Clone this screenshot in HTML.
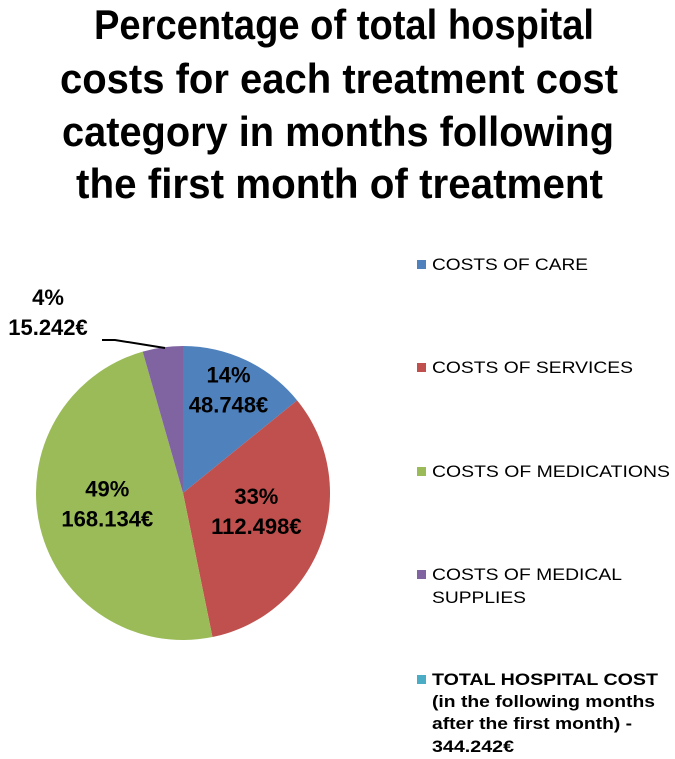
<!DOCTYPE html>
<html><head><meta charset="utf-8"><style>
body{margin:0;background:#fff;}
svg{display:block;font-family:"Liberation Sans",Arial,sans-serif;}
</style></head><body>
<svg id="chart" width="675" height="759">
<g font-weight="bold" font-size="42" fill="#000">
<text x="94" y="39" textLength="500" lengthAdjust="spacingAndGlyphs">Percentage of total hospital</text>
<text x="60" y="93" textLength="558" lengthAdjust="spacingAndGlyphs">costs for each treatment cost</text>
<text x="62" y="146" textLength="552" lengthAdjust="spacingAndGlyphs">category in months following</text>
<text x="76" y="198" textLength="527" lengthAdjust="spacingAndGlyphs">the first month of treatment</text>
</g>
<g id="slices"></g>
<g id="labels" font-weight="bold" font-size="22" fill="#000" text-anchor="middle"></g>
<polyline points="102,340 115,340 165,348" fill="none" stroke="#000" stroke-width="2"/>
<g font-size="17" fill="#000">
<g><rect x="417" y="260" width="9" height="9" fill="#4f81bd"/><text x="432" y="270" textLength="156" lengthAdjust="spacingAndGlyphs">COSTS OF CARE</text></g>
<g><rect x="417" y="363" width="9" height="9" fill="#c0504d"/><text x="432" y="373" textLength="201" lengthAdjust="spacingAndGlyphs">COSTS OF SERVICES</text></g>
<g><rect x="417" y="467" width="9" height="9" fill="#9bbb59"/><text x="432" y="477" textLength="238" lengthAdjust="spacingAndGlyphs">COSTS OF MEDICATIONS</text></g>
<g><rect x="417" y="570" width="9" height="9" fill="#8064a2"/><text x="432" y="580" textLength="190" lengthAdjust="spacingAndGlyphs">COSTS OF MEDICAL</text><text x="432" y="603" textLength="94" lengthAdjust="spacingAndGlyphs">SUPPLIES</text></g>
<g font-weight="bold"><rect x="417" y="675" width="9" height="9" fill="#4bacc6"/><text x="432" y="685" textLength="226" lengthAdjust="spacingAndGlyphs">TOTAL HOSPITAL COST</text><text x="432" y="707" textLength="223" lengthAdjust="spacingAndGlyphs">(in the following months</text><text x="432" y="729" textLength="200" lengthAdjust="spacingAndGlyphs">after the first month) -</text><text x="432" y="752" textLength="82" lengthAdjust="spacingAndGlyphs">344.242€</text></g>
</g>
</svg>
<script>
const categories = ["care","services","medications","supplies"];
const values = [48748, 112498, 168134, 15242];
const percentLabels = ["14%","33%","49%","4%"];
const valueLabels = ["48.748€","112.498€","168.134€","15.242€"];
const colors = ["#4f81bd","#c0504d","#9bbb59","#8064a2"];
const cx=183, cy=493, r=147;
const ns="http://www.w3.org/2000/svg";
const total=values.reduce((a,b)=>a+b,0);
const sg=document.getElementById('slices'), lg=document.getElementById('labels');
let a0=0;
values.forEach((v,i)=>{
  const frac=v/total;
  const a1=a0+frac*2*Math.PI;
  const p=(a)=>[cx+r*Math.sin(a), cy-r*Math.cos(a)];
  const [x0,y0]=p(a0),[x1,y1]=p(a1);
  const path=document.createElementNS(ns,'path');
  path.setAttribute('d',`M${cx},${cy}L${x0},${y0}A${r},${r} 0 ${a1-a0>Math.PI?1:0} 1 ${x1},${y1}Z`);
  path.setAttribute('fill',colors[i]);
  
  
  sg.appendChild(path);
  const am=(a0+a1)/2;
  let lx,lc;
  if(frac<0.08){ lx=48; lc=320; }
  else { const rr=r*(frac<0.2?0.72:0.53); lx=cx+rr*Math.sin(am); lc=cy-rr*Math.cos(am); }
  const t1=document.createElementNS(ns,'text');
  t1.setAttribute('x',lx); t1.setAttribute('y',lc-15);
  t1.textContent=percentLabels[i];
  
  
  lg.appendChild(t1);
  const t2=document.createElementNS(ns,'text');
  t2.setAttribute('x',lx); t2.setAttribute('y',lc+15);
  t2.textContent=valueLabels[i];
  
  
  lg.appendChild(t2);
  a0=a1;
});
</script>
</body></html>
